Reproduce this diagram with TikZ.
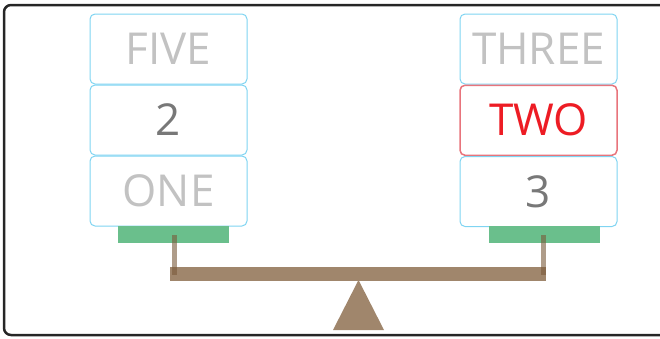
\documentclass[tikz,border=0pt]{standalone}
\usepackage{fontspec}
\setmainfont{Open Sans}
\usetikzlibrary{positioning}
\definecolor{cardblue}{HTML}{7FD4F2}
\definecolor{cardred}{HTML}{E8747C}
\definecolor{wordred}{HTML}{ED1C24}
\definecolor{wordgray}{HTML}{C2C2C2}
\definecolor{numgray}{HTML}{787878}
\definecolor{pangreen}{HTML}{6ABF8C}
\definecolor{beambrown}{HTML}{A0866C}
\definecolor{postbrown}{HTML}{7A5A3A}
\tikzset{%
  card/.style={draw=cardblue, line width=1pt, rounded corners=5pt, fill=white,
    minimum width=157pt, minimum height=70pt, inner sep=0pt,
    font=\fontsize{44}{44}\selectfont},
  word/.style={card, text=wordgray},
  num/.style={card, text=numgray},
  hot/.style={card, draw=cardred, line width=1.5pt, text=wordred},
  pan/.style={fill=pangreen, draw=none}
}

\begin{document}
\begin{tikzpicture}[x=1pt,y=-1pt]
     \useasboundingbox (0,0) rectangle (660,338);
     \clip (0,0) rectangle (660,338);
     \draw[line width=2.5pt, draw=black!85, rounded corners=7pt] (4,5) rectangle (672,335);

     % left stack
     \node[word] (five) at (168.5,49) {FIVE};
     \node[num, below=0pt of five] (two) {2};
     \node[word, below=0pt of two] (one) {ONE};

     % right stack
     \node[word] (three) at (538.5,49) {THREE};
     \node[hot, below=0pt of three] (twow) {TWO};
     \node[num, below=0pt of twow] (three3) {3};

     % scale
     \fill[pan] (118,226) rectangle (229,243);
     \fill[pan] (489,226) rectangle (600,243);
     \fill[beambrown] (170,267) rectangle (546,281);
     \foreach \x in {174,543}
       \fill[postbrown, opacity=0.6] (\x-2.5,235) rectangle (\x+2.5,275);
     \fill[beambrown] (358.5,280) -- (384,330) -- (333,330) -- cycle;

\end{tikzpicture}
\end{document}
